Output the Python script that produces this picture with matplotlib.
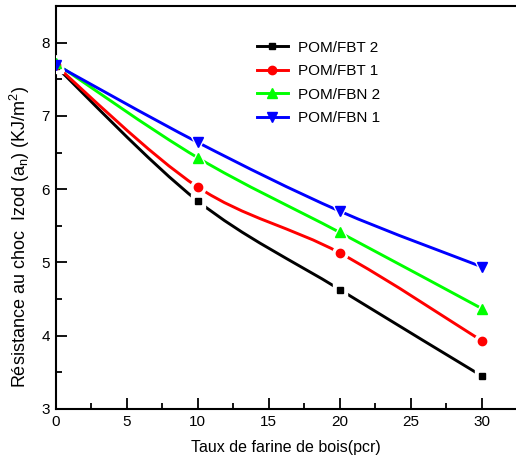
import numpy as np
import matplotlib
matplotlib.use("Agg")
import matplotlib.pyplot as plt
from matplotlib.path import Path
from matplotlib.patches import PathPatch
from matplotlib.lines import Line2D

plt.rcParams['font.family'] = ['Liberation Sans', 'DejaVu Sans']
plt.rcParams['mathtext.default'] = 'regular'

# data
taux = [0, 10, 20, 30]
fbt2 = [7.68, 5.84, 4.63, 3.45]
fbt1 = [7.69, 6.03, 5.13, 3.93]
fbn2 = [7.72, 6.43, 5.41, 4.37]
fbn1 = [7.70, 6.64, 5.70, 4.94]

series = [
    ("POM/FBT 2", fbt2, "black", "s", 5.0),
    ("POM/FBT 1", fbt1, "red", "o", 6.0),
    ("POM/FBN 2", fbn2, "#00ff00", "^", 6.5),
    ("POM/FBN 1", fbn1, "blue", "v", 6.5),
]


def smooth_path(x, y):
    # Catmull-Rom spline drawn as cubic bezier segments
    pts = np.column_stack([x, y]).astype(float)
    verts = [pts[0]]
    codes = [Path.MOVETO]
    n = len(pts)
    for i in range(n - 1):
        p0 = pts[i - 1] if i > 0 else pts[i]
        p1 = pts[i]
        p2 = pts[i + 1]
        p3 = pts[i + 2] if i + 2 < n else pts[i + 1]
        c1 = p1 + (p2 - p0) / 6.0
        c2 = p2 - (p3 - p1) / 6.0
        verts += [c1, c2, p2]
        codes += [Path.CURVE4] * 3
    return Path(verts, codes)


fig = plt.figure(figsize=(5.16, 4.66), dpi=100)
ax = fig.add_axes([55.5 / 516, 57 / 466, 1 - 55.5 / 516, 403 / 466])

handles = []
for name, vals, col, mk, ms in series:
    patch = PathPatch(smooth_path(taux, vals), facecolor="none", edgecolor=col, lw=2.1, zorder=2)
    ax.add_patch(patch)
    ax.plot(taux, vals, linestyle="none", marker=mk, ms=ms + 5, color="white", mec="white", zorder=3)
    ax.plot(taux, vals, linestyle="none", marker=mk, ms=ms, color=col, mec=col, zorder=4)
    handles.append(Line2D([], [], color=col, lw=2.1, marker=mk, ms=ms, label=name))

ax.set_xlim(0, 32.4)
ax.set_ylim(3, 8.5)
ax.set_xticks([0, 5, 10, 15, 20, 25, 30])
ax.set_xticks(np.arange(2.5, 32, 5), minor=True)
ax.set_yticks([3, 4, 5, 6, 7, 8])
ax.set_yticks(np.arange(3.5, 8.5, 1), minor=True)
ax.tick_params(which="both", direction="in", top=False, right=False, width=1.3, labelsize=11)
ax.tick_params(which="major", length=8, pad=4)
ax.tick_params(which="minor", length=4)
ax.spines["right"].set_visible(False)
for s in ["left", "bottom", "top"]:
    ax.spines[s].set_linewidth(1.5)

ax.set_xlabel("Taux de farine de bois(pcr)", fontsize=11.5, labelpad=8)
fig.text(20 / 516, 1 - 237 / 466, "Résistance au choc  Izod (a$_n$) (KJ/m$^2$)",
         rotation=90, ha="center", va="center", fontsize=13)

ax.legend(handles=handles, loc="upper left", bbox_to_anchor=(0.4376, 0.914), frameon=False,
          fontsize=11, handlelength=2.0, handletextpad=0.7, labelspacing=0.62,
          borderpad=0, borderaxespad=0)

fig.savefig("out.png", dpi=100)
